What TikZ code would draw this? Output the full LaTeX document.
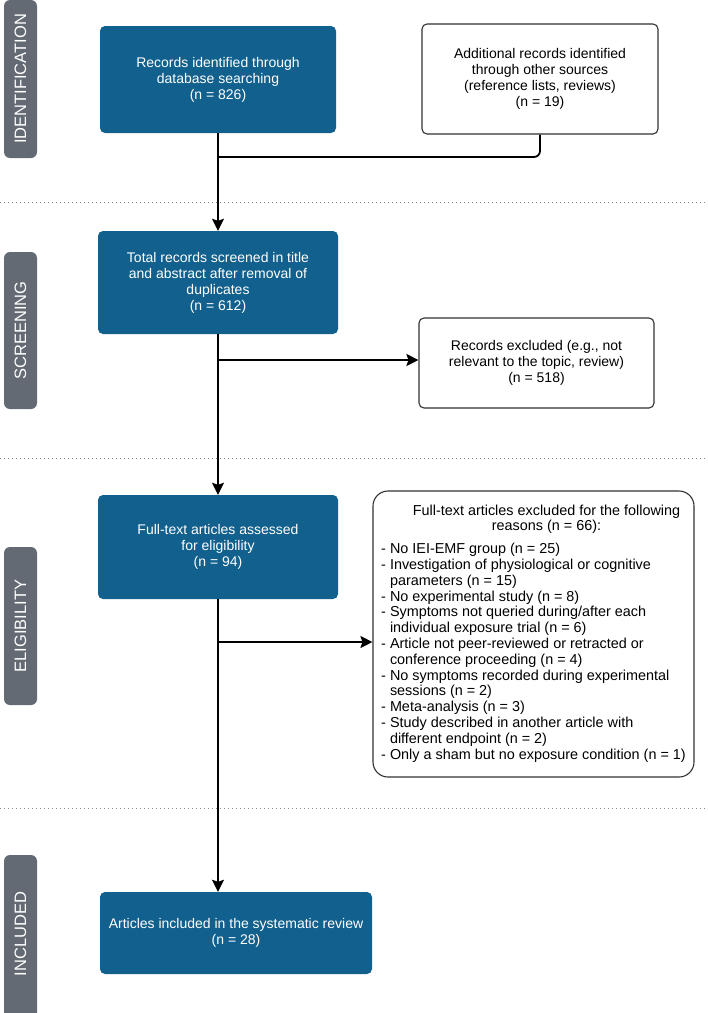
\documentclass[tikz,border=0pt]{standalone}
\usepackage{fontspec}
\setmainfont{Liberation Sans}
\usetikzlibrary{arrows.meta}
\definecolor{boxblue}{RGB}{17,96,141}
\definecolor{labelgray}{RGB}{99,106,115}
\definecolor{edgegray}{RGB}{50,50,50}
\definecolor{dotgray}{RGB}{140,140,140}
\tikzset{
  bluebox/.style={rectangle, rounded corners=5pt, fill=boxblue, text=white, align=center,
    font=\fontsize{14}{16}\selectfont, inner sep=2pt},
  whitebox/.style={rectangle, rounded corners=5pt, draw=edgegray, line width=1.1pt, fill=white,
    text=black, align=center, font=\fontsize{14}{16}\selectfont, inner sep=2pt},
  phase/.style={rectangle, rounded corners=6pt, fill=labelgray, text=white,
    minimum width=33pt, font=\fontsize{16}{18}\selectfont},
  phasetext/.style={text=white, rotate=90, font=\fontsize{16.5}{18}\selectfont},
  conn/.style={draw=black, line width=1.8pt},
  arrowconn/.style={conn, -{Stealth[length=12pt,width=12pt,inset=2pt]}},
  sep/.style={draw=dotgray, line width=0.9pt, dash pattern=on 1pt off 3pt},
}
\begin{document}
\begin{tikzpicture}[x=1pt,y=-1pt]
\useasboundingbox (0,0) rectangle (708,1013);
\fill[white] (0,0) rectangle (708,1013);

% separators
\coordinate (s1l) at (0,202); \coordinate (s1r) at (708,202);
\coordinate (s2l) at (0,458); \coordinate (s2r) at (708,458);
\coordinate (s3l) at (0,808); \coordinate (s3r) at (708,808);
\draw[sep] (s1l) -- (s1r);
\draw[sep] (s2l) -- (s2r);
\draw[sep] (s3l) -- (s3r);

% phase labels
\node[phase, minimum height=158pt] (pid) at (20.5,79) {};
\node[phasetext] (tid) at (pid.center) {IDENTIFICATION};
\node[phase, minimum height=157pt] (psc) at (20.5,330.5) {};
\node[phasetext] (tsc) at (psc.center) {SCREENING};
\node[phase, minimum height=158pt] (pel) at (20.5,626) {};
\node[phasetext] (tel) at (pel.center) {ELIGIBILITY};
\node[phase, minimum height=166pt] (pin) at (20.5,938) {};
\node[phasetext] (tin) at (20.5,934) {INCLUDED};

% main boxes
\node[bluebox, minimum width=236pt, minimum height=107pt] (b1) at (218,79.5)
  {Records identified through\\database searching\\(n = 826)};
\node[bluebox, minimum width=240pt, minimum height=103pt] (b2) at (218,282.5)
  {Total records screened in title\\and abstract after removal of\\duplicates\\(n = 612)};
\node[bluebox, minimum width=240pt, minimum height=104pt] (b3) at (218,547)
  {Full-text articles assessed\\for eligibility\\(n = 94)};
\node[bluebox, minimum width=272pt, minimum height=82pt] (b4) at (236,933)
  {Articles included in the systematic review\\(n = 28)};

% side boxes
\node[whitebox, minimum width=236pt, minimum height=110pt] (add) at (540,79)
  {Additional records identified\\through other sources\\(reference lists, reviews)\\(n = 19)};
\node[whitebox, minimum width=235pt, minimum height=90pt] (ex1) at (536.5,363)
  {Records excluded (e.g., not\\relevant to the topic, review)\\(n = 518)};
\node[whitebox, rounded corners=15pt, minimum width=321pt, minimum height=286pt, align=left,
      font=\fontsize{14.4}{15.8}\selectfont] (ex2) at (533.5,634)
  {\begin{tabular}{@{}l@{}}
   \multicolumn{1}{@{}c@{}}{\hspace*{26pt}Full-text articles excluded for the following}\\
   \multicolumn{1}{@{}c@{}}{\hspace*{26pt}reasons (n = 66):}\\[7pt]
   - No IEI-EMF group (n = 25)\\
   - Investigation of physiological or cognitive\\
   \phantom{- }parameters (n = 15)\\
   - No experimental study (n = 8)\\
   - Symptoms not queried during/after each\\
   \phantom{- }individual exposure trial (n = 6)\\
   - Article not peer-reviewed or retracted or\\
   \phantom{- }conference proceeding (n = 4)\\
   - No symptoms recorded during experimental\\
   \phantom{- }sessions (n = 2)\\
   - Meta-analysis (n = 3)\\
   - Study described in another article with\\
   \phantom{- }different endpoint (n = 2)\\
   - Only a sham but no exposure condition (n = 1)
   \end{tabular}};

% connectors
\coordinate (j1) at (218,157);
\coordinate (j2) at (218,360);
\coordinate (j3) at (218,642);
\draw[conn, rounded corners=6pt] (add.south) |- (j1);
\draw[arrowconn] (b1.south) -- (b2.north);
\draw[arrowconn] (b2.south) -- (b3.north);
\draw[arrowconn] (j2) -- (ex1.west |- j2);
\draw[arrowconn] (b3.south) -- (b3.south |- b4.north);
\draw[arrowconn] (j3) -- (ex2.west |- j3);
\end{tikzpicture}
\end{document}
